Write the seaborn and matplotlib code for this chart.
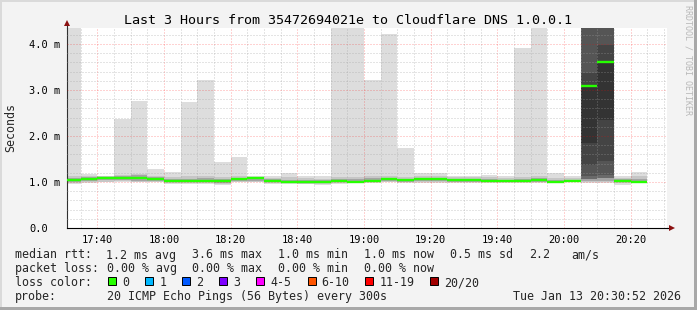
import numpy as np
import pandas as pd
import matplotlib
matplotlib.use("Agg")
import matplotlib.pyplot as plt
import seaborn as sns
from matplotlib.patches import Rectangle

# ---------------- data ----------------
bin_labels = ["17:30", "17:35", "17:40", "17:45", "17:50", "17:55",
              "18:00", "18:05", "18:10", "18:15", "18:20", "18:25",
              "18:30", "18:35", "18:40", "18:45", "18:50", "18:55",
              "19:00", "19:05", "19:10", "19:15", "19:20", "19:25",
              "19:30", "19:35", "19:40", "19:45", "19:50", "19:55",
              "20:00", "20:05", "20:10", "20:15", "20:20"]

median_ms = [1.04, 1.07, 1.08, 1.09, 1.08, 1.07,
             1.03, 1.02, 1.02, 1.02, 1.07, 1.08,
             1.02, 1.01, 0.99, 1.00, 1.03, 1.01,
             1.02, 1.07, 1.04, 1.06, 1.06, 1.04,
             1.04, 1.03, 1.02, 1.03, 1.04, 1.01,
             1.02, 3.09, 3.61, 1.02, 0.99]

smoke_max = [4.80, 1.17, 1.14, 2.38, 2.77, 1.28,
             1.22, 2.74, 3.22, 1.43, 1.54, 1.12,
             1.13, 1.19, 1.13, 1.12, 4.80, 4.80,
             3.22, 4.22, 1.75, 1.19, 1.20, 1.12,
             1.12, 1.16, 1.12, 3.91, 4.80, 1.19,
             1.14, 4.80, 4.80, 1.13, 1.22]
smoke_min = [0.95, 0.98, 1.00, 1.00, 0.99, 0.99,
             0.95, 0.95, 0.95, 0.93, 0.99, 0.99,
             0.96, 0.95, 0.95, 0.93, 0.96, 0.97,
             0.98, 0.99, 0.97, 0.97, 0.97, 0.98,
             0.97, 0.97, 0.98, 0.98, 0.98, 0.98,
             0.99, 0.97, 0.97, 0.94, 0.97]

band2_lo = [0.97, 1.00, 1.01, 1.02, 1.01, 1.00,
            0.97, 0.97, 0.97, 0.96, 1.00, 1.01,
            0.98, 0.97, 0.96, 0.96, 0.98, 0.99,
            0.99, 1.01, 0.99, 0.99, 0.99, 0.99,
            0.99, 0.99, 0.99, 0.99, 0.99, 0.99,
            1.00, 0.99, 0.99, 0.97, 0.98]
band2_hi = [1.12, 1.13, 1.13, 1.16, 1.18, 1.14,
            1.10, 1.12, 1.14, 1.10, 1.12, 1.11,
            1.09, 1.10, 1.08, 1.07, 1.10, 1.11,
            1.12, 1.12, 1.10, 1.13, 1.14, 1.10,
            1.10, 1.11, 1.08, 1.11, 1.12, 1.08,
            1.08, 4.80, 4.80, 1.09, 1.13]

band3_lo = [1.00, 1.03, 1.04, 1.05, 1.03, 1.03,
            1.00, 0.99, 0.99, 0.98, 1.02, 1.03,
            1.00, 0.99, 0.97, 0.98, 1.00, 1.00,
            1.00, 1.03, 1.01, 1.02, 1.02, 1.01,
            1.01, 1.00, 1.00, 1.01, 1.01, 1.00,
            1.01, 1.02, 1.03, 0.99, 0.99]
band3_hi = [1.08, 1.10, 1.10, 1.13, 1.15, 1.10,
            1.07, 1.07, 1.09, 1.06, 1.09, 1.10,
            1.06, 1.05, 1.04, 1.04, 1.07, 1.06,
            1.08, 1.09, 1.07, 1.09, 1.09, 1.07,
            1.06, 1.06, 1.05, 1.07, 1.08, 1.04,
            1.05, 4.80, 4.80, 1.06, 1.07]

band4_lo = [1.02, 1.05, 1.06, 1.07, 1.06, 1.05,
            1.01, 1.00, 1.00, 1.00, 1.05, 1.06,
            1.00, 0.99, 0.98, 0.98, 1.01, 0.99,
            1.00, 1.05, 1.02, 1.04, 1.04, 1.02,
            1.02, 1.01, 1.00, 1.01, 1.02, 0.99,
            1.00, 1.06, 1.08, 1.00, 0.98]
band4_hi = [1.05, 1.08, 1.09, 1.10, 1.09, 1.08,
            1.05, 1.03, 1.03, 1.03, 1.08, 1.09,
            1.03, 1.02, 1.01, 1.01, 1.04, 1.02,
            1.03, 1.08, 1.05, 1.07, 1.07, 1.05,
            1.05, 1.04, 1.03, 1.04, 1.05, 1.02,
            1.03, 4.80, 4.80, 1.03, 1.00]

# dense smoke only in the two slow bins (None = no layer)
band5_lo = [None] * 31 + [1.12, 1.15] + [None] * 2
band5_hi = [None] * 31 + [4.80, 4.80] + [None] * 2
band6_lo = [None] * 31 + [1.37, 1.45] + [None] * 2
band6_hi = [None] * 31 + [3.36, 3.98] + [None] * 2
band7_lo = [None] * 31 + [1.84, 2.35] + [None] * 2
band7_hi = [None] * 31 + [3.11, 3.62] + [None] * 2

x_tick_labels = ["17:40", "18:00", "18:20", "18:40", "19:00",
                 "19:20", "19:40", "20:00", "20:20"]
y_tick_values = [0, 1, 2, 3, 4]
y_tick_labels = ["0.0", "1.0 m", "2.0 m", "3.0 m", "4.0 m"]

title = "Last 3 Hours from 35472694021e to Cloudflare DNS 1.0.0.1"
y_label = "Seconds"
row_rtt = ["median rtt:", "1.2 ms avg", "3.6 ms max", "1.0 ms min",
           "1.0 ms now", "0.5 ms sd", "2.2", "am/s"]
row_loss = ["packet loss:", "0.00 % avg", "0.00 % max", "0.00 % min",
            "0.00 % now"]
loss_head = "loss color:"
loss_labels = ["0", "1", "2", "3", "4-5", "6-10", "11-19", "20/20"]
loss_colors = ["#26ff00", "#00b8ff", "#0059ff", "#7e00ff",
               "#ff00ff", "#ff5500", "#ff0000", "#a10000"]
probe_head = "probe:"
probe_text = "20 ICMP Echo Pings (56 Bytes) every 300s"
stamp_text = "Tue Jan 13 20:30:52 2026"
watermark = "RRDTOOL / TOBI OETIKER"

# ---------------- helpers ----------------
def to_min(s):
    h, m = s.split(":")
    return (int(h) - 17) * 60 + int(m)

starts = np.array([to_min(s) for s in bin_labels], dtype=float)
bin_w = 5.0
x_left = to_min("17:30") + 52 / 60
x_right = to_min("20:30") + 52 / 60

W, H = 697, 310
def fx(px):
    return px / W
def fy(py):
    return 1 - py / H

sns.set_style("white")
plt.rcParams["font.family"] = ["DejaVu Sans Mono"]
plt.rcParams["font.monospace"] = ["DejaVu Sans Mono"]

fig = plt.figure(figsize=(W / 100, H / 100), dpi=100, facecolor="#f3f3f3")
ax = fig.add_axes([fx(67), fy(228), 600 / W, 200.3 / H])
ax.set_facecolor("white")

layers = [
    (smoke_min, smoke_max, "#dddddd"),
    (band2_lo, band2_hi, "#c6c6c6"),
    (band3_lo, band3_hi, "#a4a4a4"),
    (band4_lo, band4_hi, "#6a6a6a"),
    (band5_lo, band5_hi, "#555555"),
    (band6_lo, band6_hi, "#444444"),
    (band7_lo, band7_hi, "#333333"),
]
for lo, hi, col in layers:
    lo = np.array([np.nan if v is None else v for v in lo], dtype=float)
    hi = np.array([np.nan if v is None else v for v in hi], dtype=float)
    ok = ~np.isnan(lo)
    ax.bar(starts[ok], (hi - lo)[ok], bottom=lo[ok], width=bin_w,
           align="edge", color=col, linewidth=0, zorder=1)

# median segments (one unit per 5-minute bin)
seg = pd.DataFrame({
    "x": np.concatenate([starts, starts + bin_w]),
    "y": np.concatenate([median_ms, median_ms]),
    "unit": np.concatenate([np.arange(len(starts))] * 2),
})
sns.lineplot(data=seg, x="x", y="y", units="unit", estimator=None,
             color="#26ff00", linewidth=1.7, legend=False, ax=ax,
             zorder=4, solid_capstyle="butt")

ax.set_xlim(x_left, x_right)
ax.set_ylim(0, 200.3 / 46)
ax.set_xlabel("")
ax.set_ylabel("")

major_x = [to_min(s) for s in x_tick_labels]
minor_x = np.arange(35, 211, 5)
ax.set_xticks(major_x)
ax.set_xticklabels(x_tick_labels)
ax.set_xticks(minor_x, minor=True)
ax.set_yticks(y_tick_values)
ax.set_yticklabels(y_tick_labels)
ax.set_yticks(np.arange(0.2, 4.4, 0.2), minor=True)

ax.grid(which="minor", color="#a0a0a0", alpha=0.55,
        linestyle=(0, (1, 2)), linewidth=0.72)
ax.grid(which="major", color="#ff0000", alpha=0.35,
        linestyle=(0, (1, 2)), linewidth=0.72)
ax.set_axisbelow(False)

ax.tick_params(axis="x", which="both", length=0, pad=5.3,
               labelsize=7.5, colors="black")
ax.tick_params(axis="y", which="major", length=2.2, width=0.72,
               direction="out", pad=25.1, labelsize=7.5, colors="black")
ax.tick_params(axis="y", which="minor", length=0)
for lbl in ax.get_yticklabels():
    lbl.set_horizontalalignment("left")
    lbl.set_verticalalignment("center_baseline")

for s in ["top", "right"]:
    ax.spines[s].set_visible(False)
ax.spines["left"].set_color("#303030")
ax.spines["bottom"].set_color("#000000")
ax.spines["left"].set_linewidth(0.8)
ax.spines["bottom"].set_linewidth(0.8)

# axis arrows
ax.plot([0, 0], [1, 1.02], transform=ax.transAxes, clip_on=False,
        color="#303030", lw=0.8)
ax.plot([0], [1.025], marker="^", ms=4.2, color="#8b1010",
        transform=ax.transAxes, clip_on=False, mew=0)
ax.plot([1, 1.006], [0, 0], transform=ax.transAxes, clip_on=False,
        color="#000000", lw=0.8)
ax.plot([1.0085], [0], marker=">", ms=4.2, color="#8b1010",
        transform=ax.transAxes, clip_on=False, mew=0)

# texts
fig.text(fx(347.5), fy(24), title, ha="center", va="baseline",
         fontsize=9.6, color="black")
fig.text(fx(10.5), fy(128), y_label, rotation=90, ha="center",
         va="center", fontsize=8.4)
fig.text(fx(688), fy(5), watermark, rotation=270, ha="center", va="top",
         fontsize=6, color="#b8b8b8")

LF = 8.4
rtt_x = [16, 107, 192.5, 279, 364.5, 451, 530, 572]
for x, t in zip(rtt_x, row_rtt):
    fig.text(fx(x - 0.7), fy(258.5), t, ha="left", va="baseline", fontsize=LF)
loss_x = [16, 107.6, 193, 279, 365]
for x, t in zip(loss_x, row_loss):
    fig.text(fx(x - 0.7), fy(272.3), t, ha="left", va="baseline", fontsize=LF)
fig.text(fx(15.3), fy(286.2), loss_head, ha="left", va="baseline", fontsize=LF)
box_x = [108, 145.3, 182, 219, 256.4, 307.6, 365, 430]
lab_x = [122.7, 160, 197, 234, 271, 322, 380, 445]
for bx, lx, t, c in zip(box_x, lab_x, loss_labels, loss_colors):
    fig.add_artist(Rectangle((fx(bx), fy(284.7)), 8 / W, 8 / H,
                             transform=fig.transFigure, facecolor=c,
                             edgecolor="black", linewidth=0.7))
    fig.text(fx(lx - 0.7), fy(286.2), t, ha="left", va="baseline", fontsize=LF)
fig.text(fx(15.3), fy(299.8), probe_head, ha="left", va="baseline", fontsize=LF)
fig.text(fx(106.9), fy(299.8), probe_text, ha="left", va="baseline", fontsize=LF)
fig.text(fx(681), fy(299.8), stamp_text, ha="right", va="baseline", fontsize=LF)

# frame
fig.add_artist(Rectangle((0, fy(2)), 1, 2 / H, transform=fig.transFigure,
                         facecolor="#dadada", edgecolor="none"))
fig.add_artist(Rectangle((0, 0), 2 / W, 1, transform=fig.transFigure,
                         facecolor="#dadada", edgecolor="none"))
fig.add_artist(Rectangle((0, 0), 1, 3 / H, transform=fig.transFigure,
                         facecolor="#a8a8a8", edgecolor="none"))
fig.add_artist(Rectangle((fx(694), 0), 3 / W, 1, transform=fig.transFigure,
                         facecolor="#a8a8a8", edgecolor="none"))

fig.savefig("out.png", dpi=100, facecolor=fig.get_facecolor())
